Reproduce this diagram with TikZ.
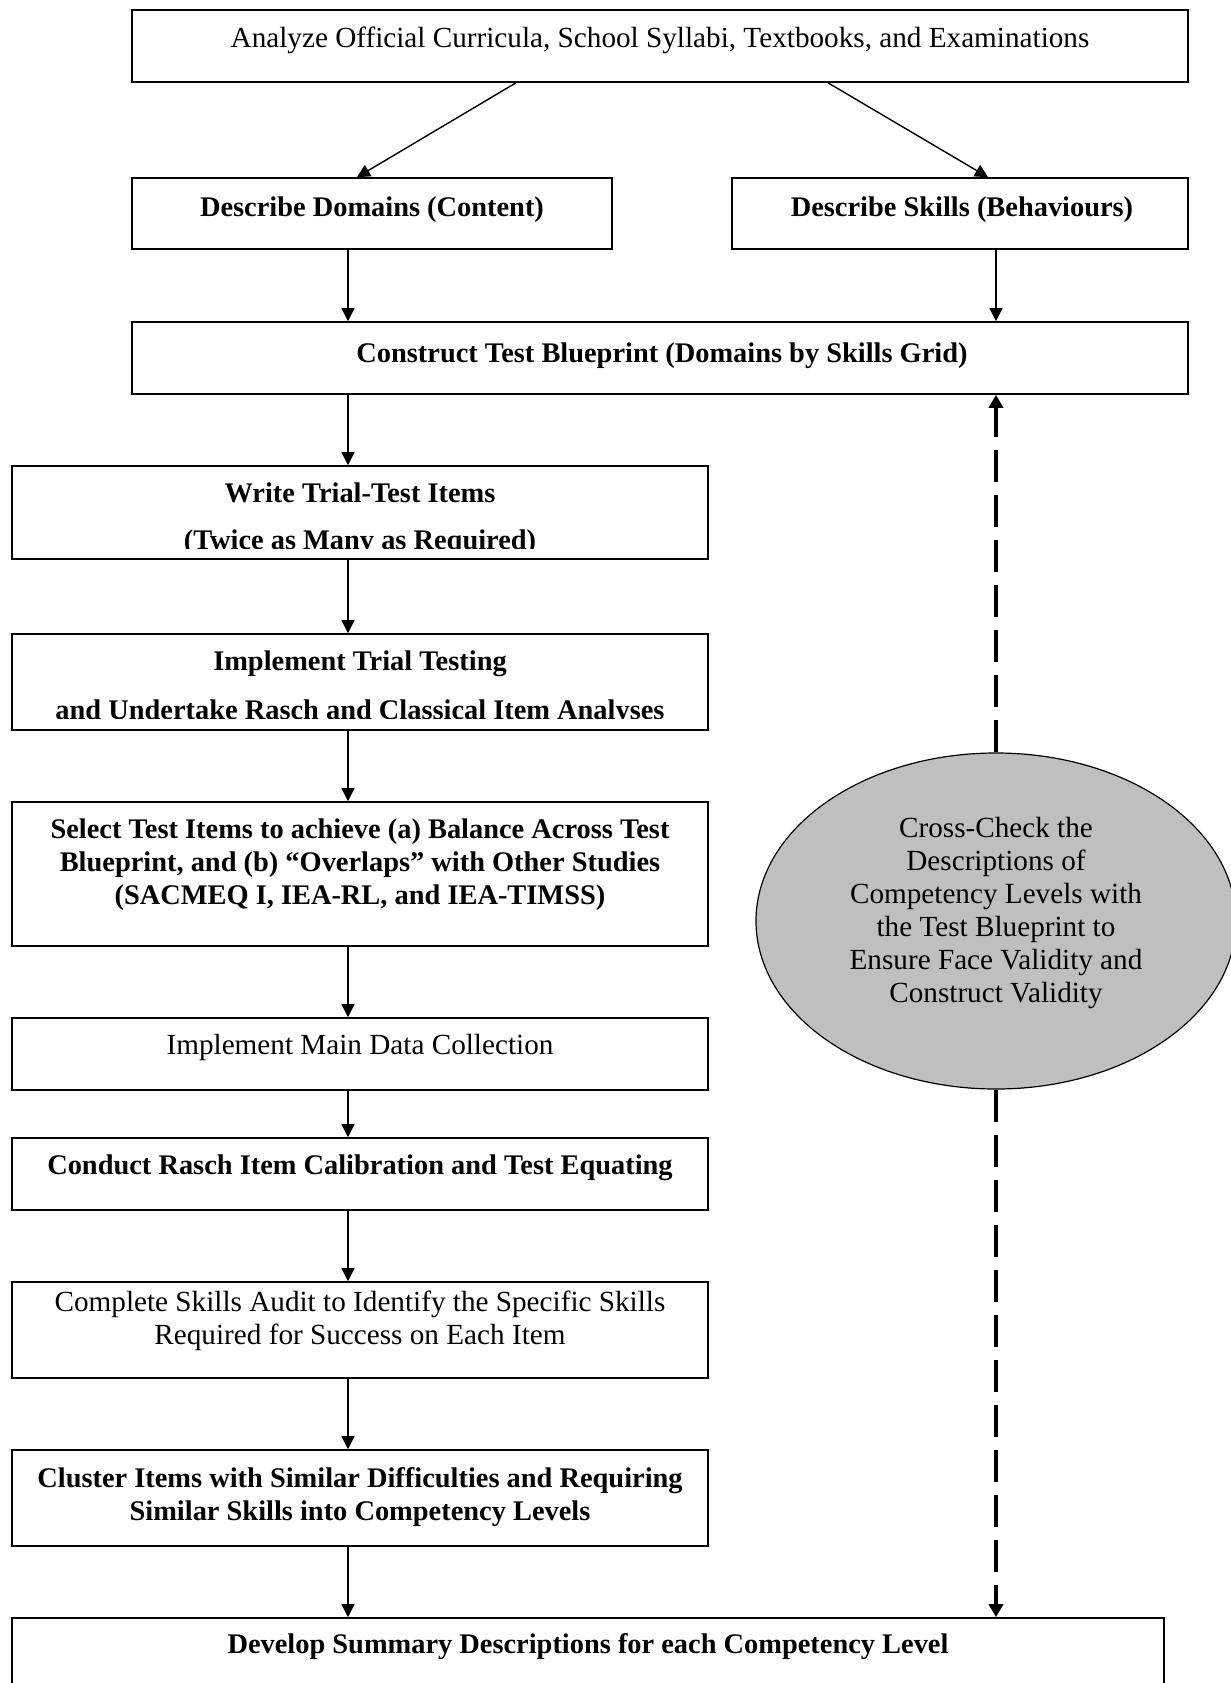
\documentclass[tikz,border=0pt]{standalone}
\usepackage{fontspec}
\setmainfont{Liberation Serif}
\usetikzlibrary{arrows.meta,shapes.geometric}
\begin{document}
\begin{tikzpicture}[x=0.5pt,y=-0.5pt,
  box/.style={draw, line width=0.8pt, inner sep=0pt},
  lbl/.style={align=center, font=\fontsize{14.6}{16.5}\selectfont, inner sep=0pt},
  blbl/.style={align=center, font=\fontsize{14.2}{16.5}\selectfont\bfseries, inner sep=0pt},
  wlbl/.style={font=\fontsize{14.2}{16.5}\selectfont\bfseries, inner sep=0pt, anchor=base},
  arr/.style={-{Triangle[length=6.5pt,width=6.5pt]}, line width=0.7pt},
  darr/.style={-{Triangle[length=6.5pt,width=7pt]}, line width=1.7pt, dash pattern=on 16pt off 6.5pt},
]
\useasboundingbox (0,0) rectangle (1231,1683);
\clip (0,0) rectangle (1231,1683);
\fill[white] (0,0) rectangle (1231,1683);

% boxes
\node[box, minimum width=528pt, minimum height=36pt] (top) at (660,46) {};
\node[box, minimum width=240pt, minimum height=35.5pt] (dom) at (372,213.5) {};
\node[box, minimum width=228pt, minimum height=35.5pt] (skl) at (960,213.5) {};
\node[box, minimum width=528pt, minimum height=36pt] (con) at (660,358) {};
\node[box, minimum width=348pt, minimum height=46.5pt] (wri) at (360,512.5) {};
\node[box, minimum width=348pt, minimum height=48pt] (imp) at (360,682) {};
\node[box, minimum width=348pt, minimum height=72pt] (sel) at (360,874) {};
\node[box, minimum width=348pt, minimum height=36pt] (mai) at (360,1054) {};
\node[box, minimum width=348pt, minimum height=36pt] (cnd) at (360,1174) {};
\node[box, minimum width=348pt, minimum height=48pt] (cmp) at (360,1330) {};
\node[box, minimum width=348pt, minimum height=48pt] (clu) at (360,1498) {};
\node[box, minimum width=576pt, minimum height=71pt] (dev) at (588,1689) {};
\node[ellipse, draw, line width=0.6pt, fill=black!25, inner sep=0pt,
      minimum width=240pt, minimum height=168pt] (ell) at (996,921) {};

% texts
\node[lbl] (ttop) at (660,40) {Analyze Official Curricula, School Syllabi, Textbooks, and Examinations};
\node[blbl] (tdom) at (372,210) {Describe Domains (Content)};
\node[blbl] (tskl) at (962,210) {Describe Skills (Behaviours)};
\node[blbl] (tcon) at (662,356) {Construct Test Blueprint (Domains by Skills Grid)};
\node[wlbl] (twria) at (360,502) {Write Trial-Test Items};
\begin{scope}
  \clip (12,466) rectangle (708,548.5);
  \node[wlbl] (twrib) at (360,549.5) {(Twice as Many as Required)};
\end{scope}
\node[wlbl] (timpa) at (360,670) {Implement Trial Testing};
\begin{scope}
  \clip (12,634) rectangle (708,718.5);
  \node[wlbl] (timpb) at (360,719) {and Undertake Rasch and Classical Item Analyses};
\end{scope}
\node[blbl] (tsel) at (360,865) {Select Test Items to achieve (a) Balance Across Test\\Blueprint, and (b) “Overlaps” with Other Studies\\(SACMEQ I, IEA-RL, and IEA-TIMSS)};
\node[lbl] (tmai) at (360,1047) {Implement Main Data Collection};
\node[blbl] (tcnd) at (360,1168) {Conduct Rasch Item Calibration and Test Equating};
\node[lbl] (tcmp) at (360,1321) {Complete Skills Audit to Identify the Specific Skills\\Required for Success on Each Item};
\node[blbl] (tclu) at (360,1497) {Cluster Items with Similar Difficulties and Requiring\\Similar Skills into Competency Levels};
\node[blbl] (tdev) at (588,1647) {Develop Summary Descriptions for each Competency Level};
\node[lbl] (tell) at (996,913) {Cross-Check the\\Descriptions of\\Competency Levels with\\the Test Blueprint to\\Ensure Face Validity and\\Construct Validity};

% helper coordinates
\coordinate (lx) at (348,0);
\coordinate (rx) at (996,0);
\coordinate (ta) at (516,0);
\coordinate (tb) at (828,0);
\coordinate (da) at (357,0);
\coordinate (db) at (988,0);

% connectors
\draw[arr] (top.south -| ta) -- (dom.north -| da);
\draw[arr] (top.south -| tb) -- (skl.north -| db);
\draw[arr] (dom.south -| lx) -- (con.north -| lx);
\draw[arr] (skl.south -| rx) -- (con.north -| rx);
\draw[arr] (con.south -| lx) -- (wri.north -| lx);
\draw[arr] (wri.south -| lx) -- (imp.north -| lx);
\draw[arr] (imp.south -| lx) -- (sel.north -| lx);
\draw[arr] (sel.south -| lx) -- (mai.north -| lx);
\draw[arr] (mai.south -| lx) -- (cnd.north -| lx);
\draw[arr] (cnd.south -| lx) -- (cmp.north -| lx);
\draw[arr] (cmp.south -| lx) -- (clu.north -| lx);
\draw[arr] (clu.south -| lx) -- (dev.north -| lx);
\draw[darr] (ell.north) -- (con.south -| rx);
\draw[darr] (ell.south) -- (dev.north -| rx);
\end{tikzpicture}
\end{document}
